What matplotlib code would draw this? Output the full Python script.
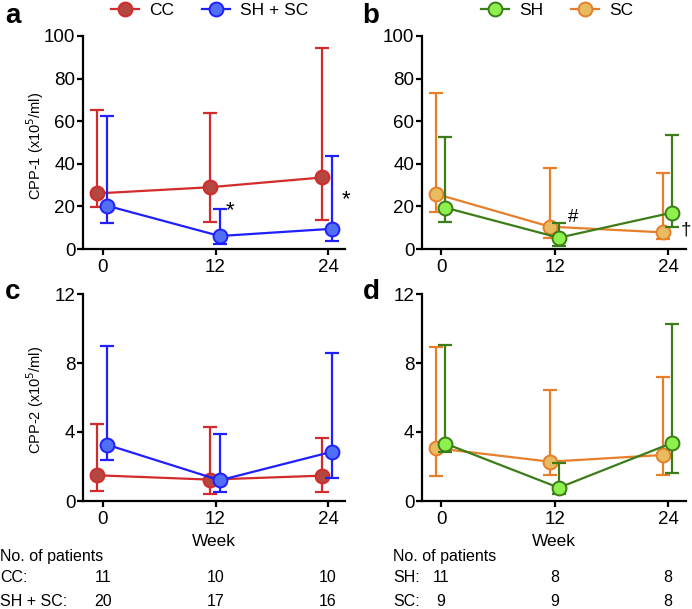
import matplotlib
matplotlib.use("Agg")
import matplotlib.pyplot as plt
import matplotlib.transforms as mtransforms
import numpy as np

plt.rcParams['font.family'] = ['Liberation Sans', 'DejaVu Sans']

# ---------------- data ----------------
weeks = [0, 12, 24]

# Panel a: CPP-1, CC vs SH + SC  (median, lower, upper)
a_cc_med = [26.1, 29.0, 33.6]
a_cc_low = [19.9, 12.8, 13.6]
a_cc_up = [65.3, 64.0, 94.2]
a_shsc_med = [20.3, 6.1, 9.5]
a_shsc_low = [12.4, 2.5, 3.8]
a_shsc_up = [62.6, 18.6, 43.7]

# Panel b: CPP-1, SH vs SC
b_sc_med = [25.8, 10.5, 7.8]
b_sc_low = [17.5, 5.3, 4.5]
b_sc_up = [73.1, 38.2, 35.8]
b_sh_med = [19.4, 5.3, 17.1]
b_sh_low = [12.5, 1.6, 10.2]
b_sh_up = [52.7, 12.4, 53.7]

# Panel c: CPP-2, CC vs SH + SC
c_cc_med = [1.49, 1.24, 1.47]
c_cc_low = [0.56, 0.41, 0.52]
c_cc_up = [4.48, 4.27, 3.63]
c_shsc_med = [3.26, 1.20, 2.86]
c_shsc_low = [2.36, 0.50, 1.33]
c_shsc_up = [9.00, 3.90, 8.57]

# Panel d: CPP-2, SH vs SC
d_sc_med = [3.06, 2.28, 2.67]
d_sc_low = [1.43, 1.49, 1.49]
d_sc_up = [8.92, 6.42, 7.16]
d_sh_med = [3.33, 0.77, 3.37]
d_sh_low = [2.84, 0.39, 1.62]
d_sh_up = [9.07, 2.20, 10.25]

n_cc = ["11", "10", "10"]
n_shsc = ["20", "17", "16"]
n_sh = ["11", "8", "8"]
n_sc = ["9", "9", "8"]

# ---------------- style ----------------
W, H = 692, 609
fig = plt.figure(figsize=(W / 100, H / 100), dpi=100)

RED_L, RED_F = '#d32b2b', '#b4473f'
BLU_L, BLU_F = '#1f1fff', '#4f6ff6'
GRN_L, GRN_F = '#3b7d18', '#8ef04c'
ORA_L, ORA_F = '#e67e2a', '#e9bb60'


def rect(l, r, top, bottom):
    return [l / W, 1 - bottom / H, (r - l) / W, (bottom - top) / H]


def style_ax(ax, ymax, yticks, xlim):
    ax.set_xlim(*xlim)
    ax.set_ylim(0, ymax)
    ax.set_yticks(yticks)
    ax.set_xticks(weeks)
    for s in ['top', 'right']:
        ax.spines[s].set_visible(False)
    for s in ['left', 'bottom']:
        ax.spines[s].set_linewidth(1.6)
    ax.tick_params(width=1.6, length=4.5, labelsize=13.5)
    ax.tick_params(axis='y', pad=1)
    ax.tick_params(axis='x', pad=3)
    ax.patch.set_alpha(0)


def series(ax, x, med, low, up, lc, fc, off, z):
    xs = np.array(x, dtype=float) + off
    med = np.array(med); low = np.array(low); up = np.array(up)
    ax.errorbar(xs, med, yerr=[med - low, up - med], fmt='none',
                ecolor=lc, elinewidth=1.6, capsize=5, capthick=1.6, zorder=z)
    ln, = ax.plot(xs, med, '-o', color=lc, lw=1.6, ms=10,
                  mfc=fc, mec=lc, mew=1.4, zorder=z + 0.5, clip_on=False)
    return ln


xlim_l = (-2.13, 25.8)
xlim_r = (-2.02, 25.9)

ax_a = fig.add_axes(rect(83, 345, 36, 249))
ax_b = fig.add_axes(rect(422, 686, 36, 249))
ax_c = fig.add_axes(rect(83, 345, 294, 501))
ax_d = fig.add_axes(rect(422, 686, 294, 501))

style_ax(ax_a, 100, [0, 20, 40, 60, 80, 100], xlim_l)
style_ax(ax_b, 100, [0, 20, 40, 60, 80, 100], xlim_r)
style_ax(ax_c, 12, [0, 4, 8, 12], xlim_l)
style_ax(ax_d, 12, [0, 4, 8, 12], xlim_r)

l_cc = series(ax_a, weeks, a_cc_med, a_cc_low, a_cc_up, RED_L, RED_F, -0.6, 3)
l_shsc = series(ax_a, weeks, a_shsc_med, a_shsc_low, a_shsc_up, BLU_L, BLU_F, 0.45, 4)
series(ax_c, weeks, c_cc_med, c_cc_low, c_cc_up, RED_L, RED_F, -0.6, 3)
series(ax_c, weeks, c_shsc_med, c_shsc_low, c_shsc_up, BLU_L, BLU_F, 0.45, 4)

l_sc = series(ax_b, weeks, b_sc_med, b_sc_low, b_sc_up, ORA_L, ORA_F, -0.5, 3)
l_sh = series(ax_b, weeks, b_sh_med, b_sh_low, b_sh_up, GRN_L, GRN_F, 0.45, 4)
series(ax_d, weeks, d_sc_med, d_sc_low, d_sc_up, ORA_L, ORA_F, -0.5, 3)
series(ax_d, weeks, d_sh_med, d_sh_low, d_sh_up, GRN_L, GRN_F, 0.45, 4)

# y labels
ax_a.set_ylabel('CPP-1 (x10$^5$/ml)', fontsize=10.5)
ax_a.yaxis.set_label_coords(-0.14, 0.485)
ax_c.set_ylabel('CPP-2 (x10$^5$/ml)', fontsize=10.5)
ax_c.yaxis.set_label_coords(-0.14, 0.49)

# x labels
for ax in (ax_c, ax_d):
    ax.set_xlabel('Week', fontsize=12.5)
    ax.xaxis.set_label_coords(0.5, -0.198)
    ax.xaxis.label.set_va('center')

# annotations
ax_a.text(13.5, 18, '*', fontsize=16, ha='center', va='center')
ax_a.text(25.9, 23, '*', fontsize=16, ha='center', va='center', clip_on=False)
ax_b.text(14.0, 15, '#', fontsize=13.5, ha='center', va='center')
ax_b.text(25.9, 9, '†', fontsize=13.5, ha='center', va='center', clip_on=False)

# legends
leg_kw = dict(ncol=2, frameon=False, loc='center', bbox_transform=fig.transFigure,
              fontsize=12.5, handlelength=1.6, columnspacing=1.6,
              handletextpad=0.6, borderpad=0, borderaxespad=0)
ax_a.legend(handles=[l_cc, l_shsc], labels=['CC', 'SH + SC'],
            bbox_to_anchor=(210 / W, 1 - 10 / H), **leg_kw)
ax_b.legend(handles=[l_sh, l_sc], labels=['SH', 'SC'],
            bbox_to_anchor=(557 / W, 1 - 10 / H), **leg_kw)

# panel letters
for lab, x, y in [('a', 13, 16), ('b', 371, 16), ('c', 13, 292), ('d', 371, 292)]:
    fig.text(x / W, 1 - y / H, lab, fontsize=20, fontweight='bold',
             ha='center', va='center')

# patient table
fs = 11.5
fig.text(0 / W, 1 - 557 / H, 'No. of patients', fontsize=fs, va='center', ha='left')
fig.text(0 / W, 1 - 578 / H, 'CC:', fontsize=fs, va='center', ha='left')
fig.text(0 / W, 1 - 602 / H, 'SH + SC:', fontsize=fs, va='center', ha='left')
tr_c = mtransforms.blended_transform_factory(ax_c.transData, fig.transFigure)
for w, n1, n2 in zip(weeks, n_cc, n_shsc):
    fig.text(w, 1 - 578 / H, n1, fontsize=fs, va='center', ha='center', transform=tr_c)
    fig.text(w, 1 - 602 / H, n2, fontsize=fs, va='center', ha='center', transform=tr_c)

fig.text(393 / W, 1 - 557 / H, 'No. of patients', fontsize=fs, va='center', ha='left')
fig.text(393 / W, 1 - 578 / H, 'SH:', fontsize=fs, va='center', ha='left')
fig.text(393 / W, 1 - 602 / H, 'SC:', fontsize=fs, va='center', ha='left')
tr_d = mtransforms.blended_transform_factory(ax_d.transData, fig.transFigure)
for w, n1, n2 in zip(weeks, n_sh, n_sc):
    fig.text(w, 1 - 578 / H, n1, fontsize=fs, va='center', ha='center', transform=tr_d)
    fig.text(w, 1 - 602 / H, n2, fontsize=fs, va='center', ha='center', transform=tr_d)

fig.savefig('out.png', dpi=100)
